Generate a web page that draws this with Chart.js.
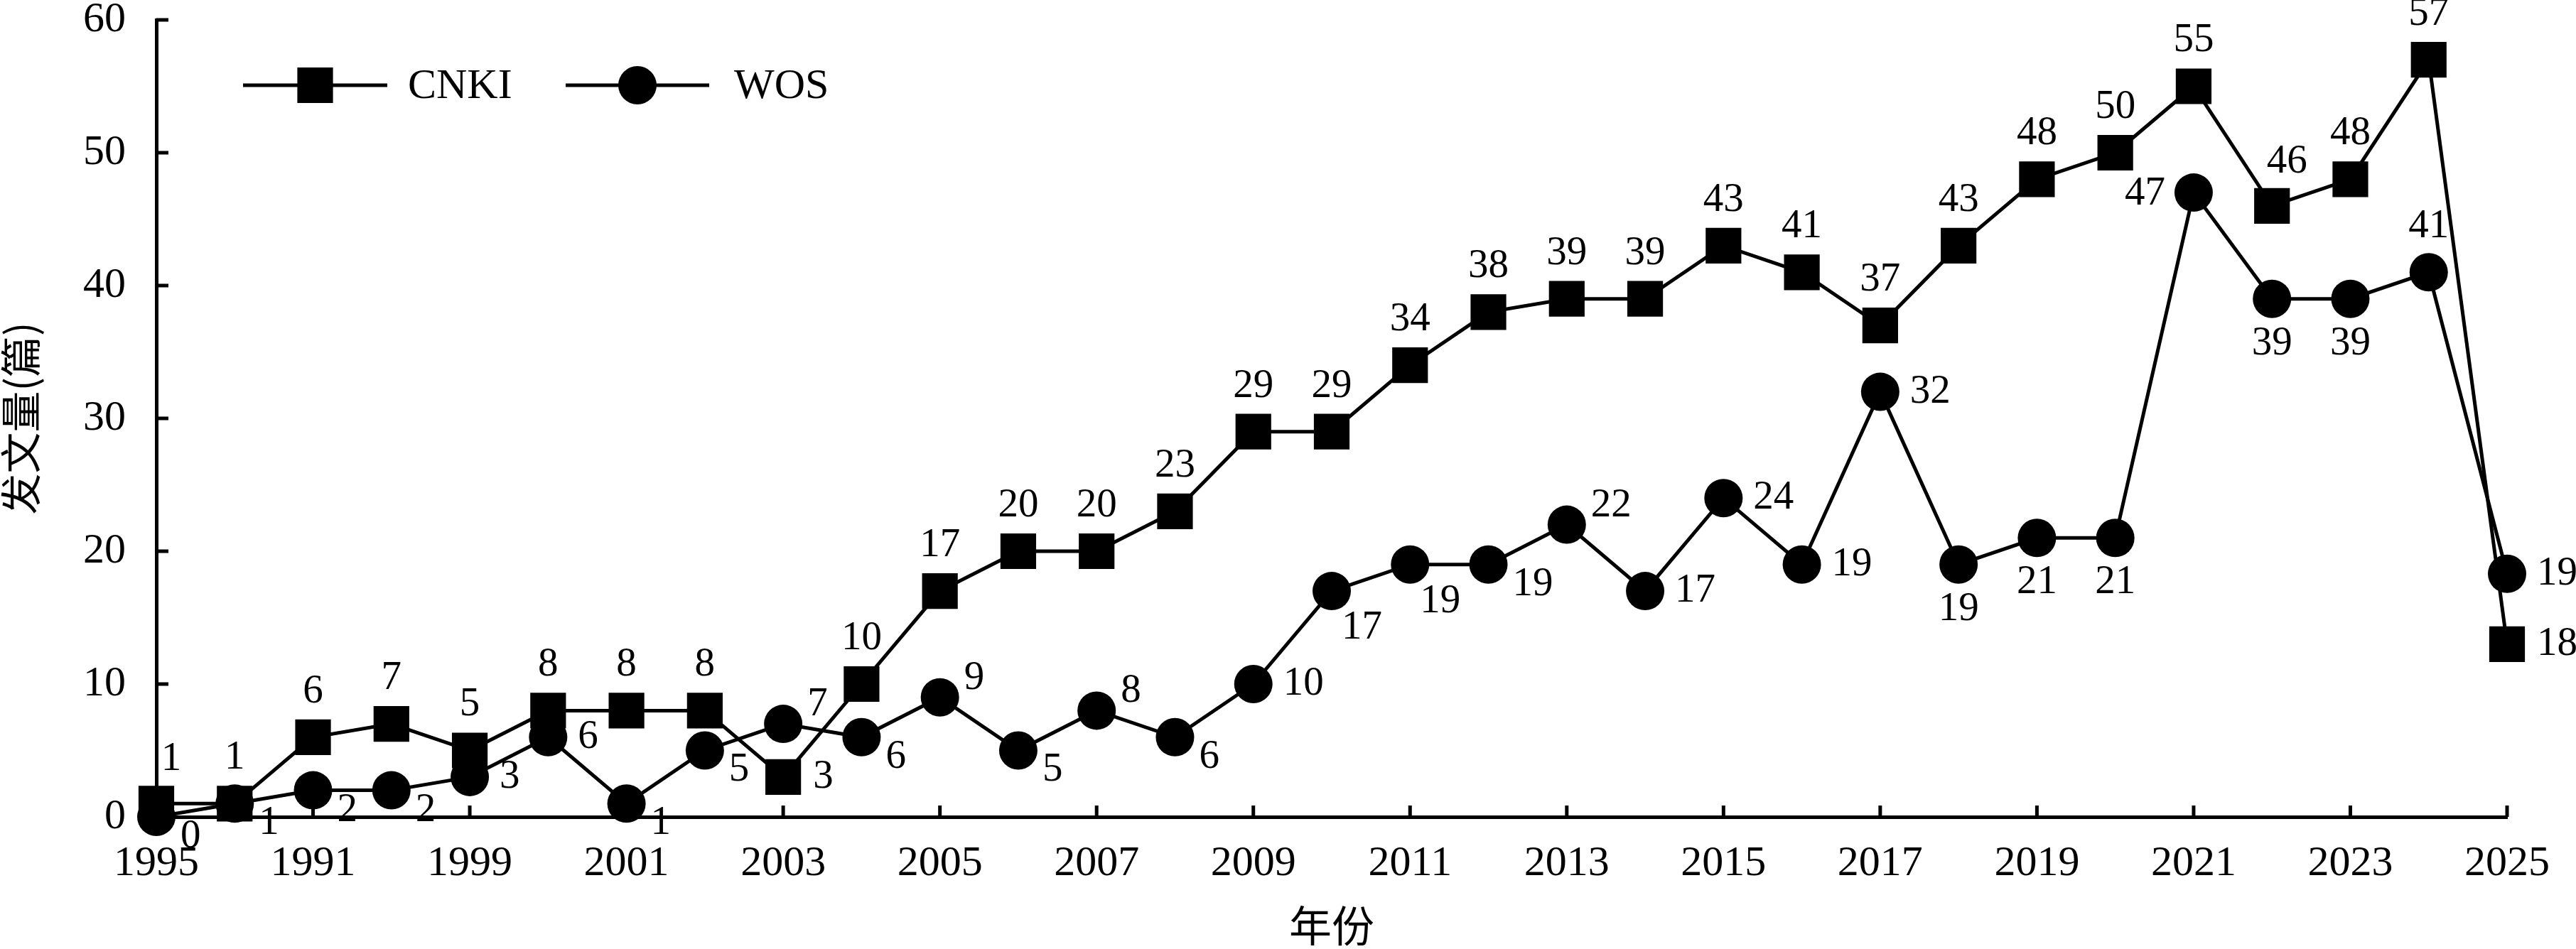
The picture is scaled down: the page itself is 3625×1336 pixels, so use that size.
<!DOCTYPE html>
<html>
<head>
<meta charset="utf-8">
<script src="https://cdn.jsdelivr.net/npm/chart.js@4/dist/chart.umd.min.js"></script>
<style>
  html, body { margin: 0; padding: 0; background: #fff; }
  #wrap { width: 3625px; height: 1336px; position: relative; }
</style>
</head>
<body>
<div id="wrap"><canvas id="chart"></canvas></div>
<script>
// Years on the x axis (one per point)
const years = [];
for (let y = 1995; y <= 2025; y++) years.push(String(y));

// Tick labels shown every second year (as printed on the original, incl. "1991")
const xTickLabels = ['1995', '1991', '1999', '2001', '2003', '2005', '2007', '2009',
  '2011', '2013', '2015', '2017', '2019', '2021', '2023', '2025'];

// Plotted values
const cnkiValues = [1, 1, 6, 7, 5, 8, 8, 8, 3, 10, 17, 20, 20, 23, 29, 29, 34, 38, 39, 39,
  43, 41, 37, 43, 48, 50, 55, 46, 48, 57, 13];
const wosValues = [0, 1, 2, 2, 3, 6, 1, 5, 7, 6, 9, 5, 8, 6, 10, 17, 19, 19, 22, 17,
  24, 19, 32, 19, 21, 21, 47, 39, 39, 41, 18.3];

// Numbers printed next to the points
const cnkiLabels = ['1', '1', '6', '7', '5', '8', '8', '8', '3', '10', '17', '20', '20', '23', '29', '29',
  '34', '38', '39', '39', '43', '41', '37', '43', '48', '50', '55', '46', '48', '57', '18'];
const wosLabels = ['0', '1', '2', '2', '3', '6', '1', '5', '7', '6', '9', '5', '8', '6', '10', '17',
  '19', '19', '22', '17', '24', '19', '32', '19', '21', '21', '47', '39', '39', '41', '19'];

// Where each number sits relative to its point
const cnkiPlace = ['ar', 'a', 'a', 'a', 'a', 'a', 'a', 'a', 'r', 'a', 'a', 'a', 'a', 'a', 'a', 'a',
  'a', 'a', 'a', 'a', 'a', 'a', 'a', 'a', 'a', 'a', 'a', 'ar', 'a', 'a', 'r'];
const wosPlace = ['rb', 'rb', 'rb', 'rb', 'r', 'r', 'rb', 'rb', 'ra', 'rb', 'ra', 'rb', 'ra', 'rb', 'r', 'br',
  'br', 'rb', 'ra', 'r', 'r', 'r', 'r', 'b', 'b', 'b', 'l', 'b', 'b', 'a', 'r'];

const placements = {
  a:  { dx: 0,   dy: -64, align: 'center' },
  ar: { dx: 21,  dy: -62, align: 'center' },
  b:  { dx: 0,   dy: 63,  align: 'center' },
  l:  { dx: -40, dy: 2,   align: 'right' },
  r:  { dx: 42,  dy: 0,   align: 'left' },
  ra: { dx: 34,  dy: -27, align: 'left' },
  rb: { dx: 34,  dy: 28,  align: 'left' },
  br: { dx: 14,  dy: 52,  align: 'left' }
};

const SERIF = '"Liberation Serif", "Times New Roman", serif';
const CJK = '"Noto Sans CJK SC", sans-serif';

// Numbers beside the points
const pointLabels = {
  id: 'pointLabels',
  afterDatasetsDraw(chart) {
    const ctx = chart.ctx;
    ctx.save();
    ctx.font = '57px ' + SERIF;
    ctx.fillStyle = '#000';
    ctx.textBaseline = 'middle';
    chart.data.datasets.forEach((ds, di) => {
      const meta = chart.getDatasetMeta(di);
      meta.data.forEach((pt, i) => {
        const p = placements[ds.place[i]];
        ctx.textAlign = p.align;
        ctx.fillText(ds.valueLabels[i], pt.x + p.dx, pt.y + p.dy);
      });
    });
    ctx.restore();
  }
};

// Tick marks pointing into the plot
const innerTicks = {
  id: 'innerTicks',
  afterDraw(chart) {
    const ctx = chart.ctx;
    const xs = chart.scales.x, ys = chart.scales.y;
    const area = chart.chartArea;
    ctx.save();
    ctx.strokeStyle = '#000';
    ctx.lineWidth = 5;
    ctx.beginPath();
    years.forEach((yr, i) => {
      if (i % 2 !== 0) return;
      const x = xs.getPixelForValue(i);
      ctx.moveTo(x, area.bottom);
      ctx.lineTo(x, area.bottom - 16);
    });
    ys.ticks.forEach(t => {
      const y = ys.getPixelForValue(t.value);
      ctx.moveTo(area.left, y);
      ctx.lineTo(area.left + 17, y);
    });
    ctx.stroke();
    ctx.restore();
  }
};

// Legend with line + marker
const lineLegend = {
  id: 'lineLegend',
  afterDraw(chart) {
    const ctx = chart.ctx;
    const items = [
      { ds: chart.data.datasets[0], x0: 342, x1: 545, tx: 574 },
      { ds: chart.data.datasets[1], x0: 796, x1: 998, tx: 1033 }
    ];
    const y = 120;
    ctx.save();
    ctx.fillStyle = '#000';
    ctx.strokeStyle = '#000';
    items.forEach(it => {
      ctx.lineWidth = it.ds.borderWidth;
      ctx.beginPath();
      ctx.moveTo(it.x0, y);
      ctx.lineTo(it.x1, y);
      ctx.stroke();
      const cx = (it.x0 + it.x1) / 2;
      const r = it.ds.pointRadius;
      ctx.beginPath();
      if (it.ds.pointStyle === 'rect') {
        const h = r * Math.SQRT1_2;
        ctx.rect(cx - h, y - h, 2 * h, 2 * h);
      } else {
        ctx.arc(cx, y, r, 0, Math.PI * 2);
      }
      ctx.fill();
      ctx.font = '60px ' + SERIF;
      ctx.textAlign = 'left';
      ctx.textBaseline = 'middle';
      ctx.fillText(it.ds.label, it.tx, y + 2);
    });
    ctx.restore();
  }
};

new Chart(document.getElementById('chart'), {
  type: 'line',
  data: {
    labels: years,
    datasets: [
      {
        label: 'CNKI',
        data: cnkiValues,
        valueLabels: cnkiLabels,
        place: cnkiPlace,
        borderColor: '#000',
        backgroundColor: '#000',
        borderWidth: 5,
        pointStyle: 'rect',
        pointRadius: 35.5,
        pointBorderWidth: 0,
        pointHoverRadius: 35.5,
        tension: 0,
        clip: false
      },
      {
        label: 'WOS',
        data: wosValues,
        valueLabels: wosLabels,
        place: wosPlace,
        borderColor: '#000',
        backgroundColor: '#000',
        borderWidth: 5,
        pointStyle: 'circle',
        pointRadius: 27,
        pointBorderWidth: 0,
        pointHoverRadius: 27,
        tension: 0,
        clip: false
      }
    ]
  },
  options: {
    responsive: true,
    maintainAspectRatio: false,
    devicePixelRatio: 1,
    animation: false,
    events: [],
    layout: { autoPadding: false, padding: { left: 0, top: 28, right: 97, bottom: 0 } },
    plugins: {
      legend: { display: false },
      tooltip: { enabled: false }
    },
    scales: {
      x: {
        type: 'category',
        offset: false,
        grid: { display: false, drawTicks: false },
        border: { display: true, color: '#000', width: 5 },
        ticks: {
          autoSkip: false,
          maxRotation: 0,
          padding: 30,
          color: '#000',
          font: { family: SERIF, size: 60 },
          callback: (v, i) => (i % 2 === 0 ? xTickLabels[i / 2] : null)
        },
        title: {
          display: true,
          text: '年份',
          color: '#000',
          padding: 0,
          font: { family: CJK, size: 60, lineHeight: 1.1 }
        },
        afterFit(scale) {
          scale.height = 186;
          scale.paddingLeft = 0;
          scale.paddingRight = 0;
        }
      },
      y: {
        min: 0,
        max: 60,
        grid: { display: false, drawTicks: false },
        border: { display: true, color: '#000', width: 5 },
        ticks: {
          stepSize: 10,
          padding: 43,
          color: '#000',
          font: { family: SERIF, size: 60, lineHeight: 0.9 }
        },
        title: {
          display: true,
          text: '发文量(篇)',
          color: '#000',
          padding: 0,
          font: { family: CJK, size: 58, lineHeight: 1.0 }
        },
        afterFit(scale) {
          scale.width = 220;
          scale.paddingTop = 0;
          scale.paddingBottom = 0;
        }
      }
    }
  },
  plugins: [pointLabels, innerTicks, lineLegend]
});
</script>
</body>
</html>
